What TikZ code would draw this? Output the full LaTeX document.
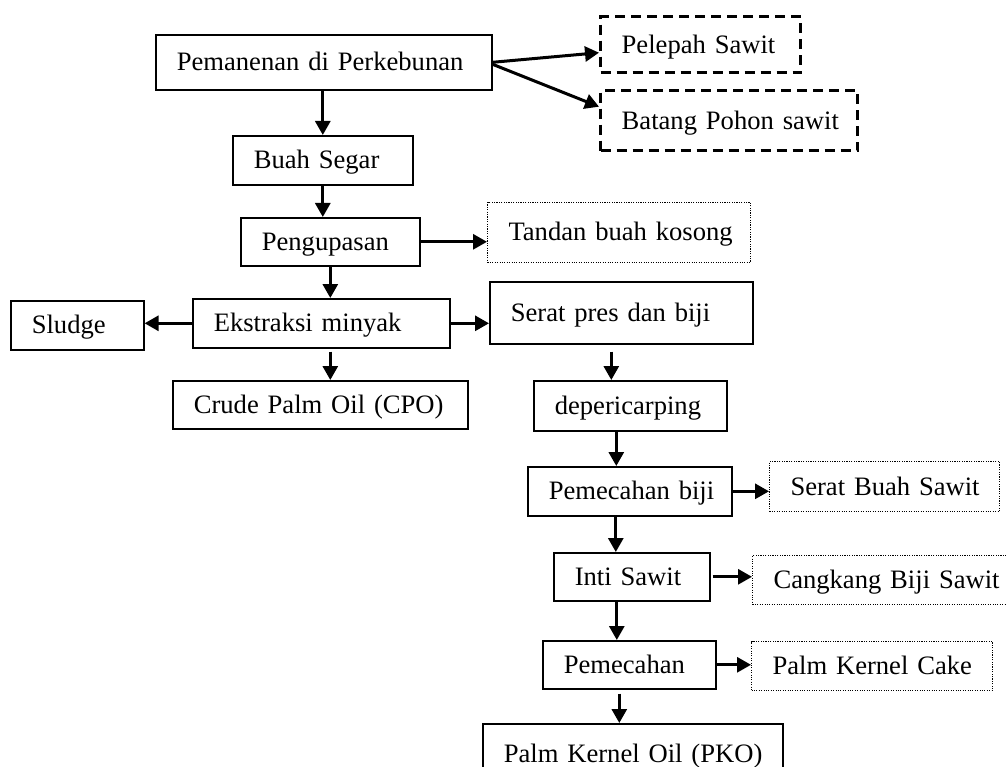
\documentclass[tikz,border=0pt]{standalone}
\usepackage{fontspec}
\setmainfont{Liberation Serif}
\usepackage{tikz}
\usetikzlibrary{arrows.meta, positioning, calc}

\begin{document}
\begin{tikzpicture}[
  x=1pt, y=-1pt,
  font=\fontsize{26.6}{32}\selectfont,
  process/.style={rectangle, draw, line width=1.6pt, anchor=north west, inner xsep=21pt, inner ysep=0pt, align=left, text height=19pt, text depth=2pt, execute at begin node={\hbox\bgroup}, execute at end node={\egroup}},
  waste/.style={process, line width=3.4pt, dash pattern=on 10pt off 6pt},
  byproduct/.style={process, line width=1pt, dash pattern=on 1.1pt off 1.3pt},
  arrow/.style={-{Triangle[length=14pt,width=15pt]}, line width=3pt}
]
  \useasboundingbox (0,0) rectangle (1006,767);
  \clip (0,0) rectangle (1006,767);

  % main line
  \node[process, text width=294pt, minimum height=55pt] (harvest) at (155,34) {Pemanenan di Perkebunan};
  \node[process, text width=138pt, minimum height=49pt] (fresh) at (232,135) {Buah Segar};
  \node[process, text width=137pt, minimum height=48pt] (peel) at (240,217) {Pengupasan};
  \node[process, text width=215pt, minimum height=49pt] (extract) at (192,298) {Ekstraksi minyak};
  \node[process, text width=91pt, minimum height=49pt] (sludge) at (10,300) {Sludge};
  \node[process, text width=253pt, minimum height=48pt] (cpo) at (172,380) {Crude Palm Oil (CPO)};

  % waste from the plantation
  \node[waste, text width=158pt, minimum height=56pt] (frond) at (599,15) {Pelepah Sawit};
  \node[waste, text width=215pt, minimum height=60pt] (trunk) at (599,89) {Batang Pohon sawit};

  % kernel line
  \node[byproduct, text width=221pt, minimum height=60pt] (efb) at (487,202) {Tandan buah kosong};
  \node[process, text width=221pt, minimum height=62pt] (fiber) at (489,281) {Serat pres dan biji};
  \node[process, text width=151pt, minimum height=50pt] (deperi) at (533,380) {depericarping};
  \node[process, text width=162pt, minimum height=49pt] (crack) at (527,466) {Pemecahan biji};
  \node[byproduct, text width=188pt, minimum height=50pt] (fruitfiber) at (769,461) {Serat Buah Sawit};
  \node[process, text width=114pt, minimum height=48pt] (kernel) at (553,552) {Inti Sawit};
  \node[byproduct, text width=220pt, minimum height=49pt] (shell) at (752,555) {Cangkang Biji Sawit};
  \node[process, text width=131pt, minimum height=48pt] (press) at (542,640) {Pemecahan};
  \node[byproduct, text width=199pt, minimum height=49pt] (cake) at (751,641) {Palm Kernel Cake};
  \node[process, text width=258pt, minimum height=60pt] (pko) at (482,723) {Palm Kernel Oil (PKO)};

  % arrows
  \draw[arrow] (fresh.north |- harvest.south) -- (fresh.north);
  \draw[arrow] (fresh.south) -- (fresh.south |- peel.north);
  \draw[arrow] (peel.south) -- (peel.south |- extract.north);
  \draw[arrow] (extract.west) -- (extract.west -| sludge.east);
  \draw[arrow] (extract.east) -- (extract.east -| fiber.west);
  \draw[arrow] ([yshift=-3pt]peel.south |- extract.south) -- (peel.south |- cpo.north);
  \draw[arrow] (peel.east) -- (peel.east -| efb.west);
  \draw[arrow] (harvest.east) -- ([yshift=-8pt]frond.west);
  \draw[arrow] ([yshift=-2pt]harvest.east) -- ([yshift=14pt]trunk.west);

  \draw[arrow] ([xshift=-10pt,yshift=-7pt]fiber.south) -- ([xshift=-10pt]fiber.south |- deperi.north);
  \draw[arrow] ([xshift=-14pt]deperi.south) -- ([xshift=-14pt]deperi.south |- crack.north);
  \draw[arrow] (crack.east) -- (crack.east -| fruitfiber.west);
  \draw[arrow] ([xshift=-14pt]crack.south) -- ([xshift=-14pt]crack.south |- kernel.north);
  \draw[arrow] ([xshift=2pt]kernel.east) -- (kernel.east -| shell.west);
  \draw[arrow] ([xshift=-15pt]kernel.south) -- ([xshift=-15pt]kernel.south |- press.north);
  \draw[arrow] (press.east) -- (press.east -| cake.west);
  \draw[arrow] ([xshift=-10pt,yshift=-4pt]press.south) -- ([xshift=-10pt]press.south |- pko.north);
\end{tikzpicture}
\end{document}
